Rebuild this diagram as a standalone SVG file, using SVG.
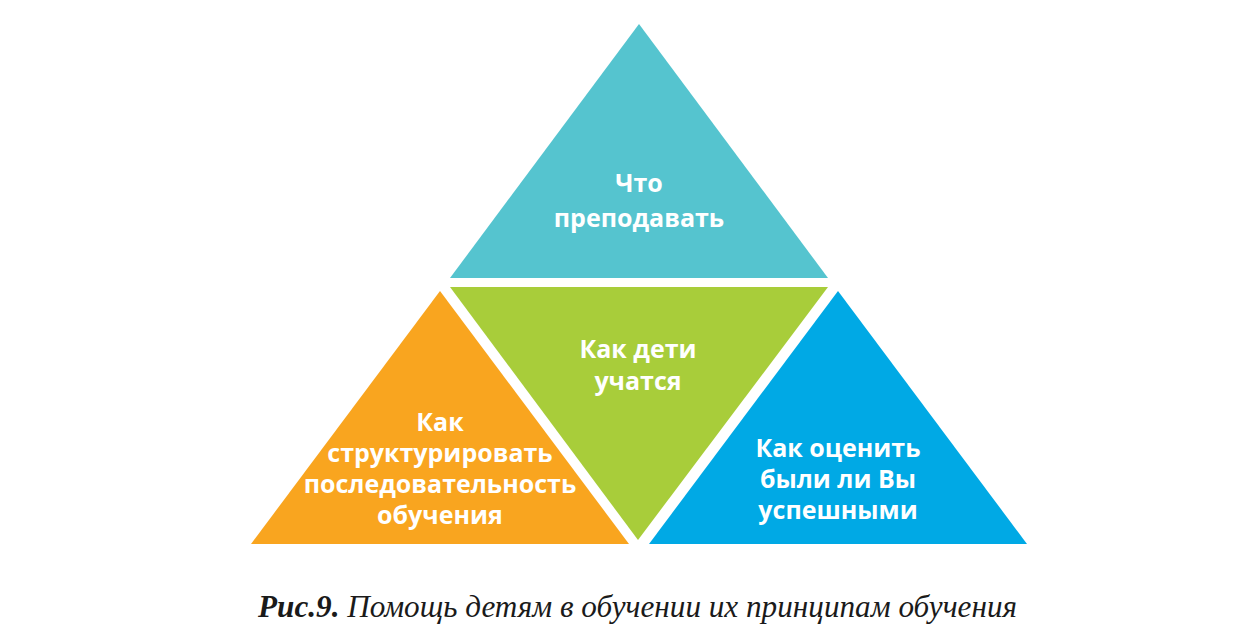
<svg xmlns="http://www.w3.org/2000/svg" width="1251" height="641" viewBox="0 0 1251 641">
  <style>
    .lbl { font-family: "Open Sans", "Noto Sans", "DejaVu Sans", sans-serif; font-weight: 700; font-size: 25px; fill: #FFFFFF; text-anchor: middle; }
    .cap { font-family: "Liberation Serif", "Times New Roman", serif; font-style: italic; font-size: 31px; fill: #1A1A1A; }
  </style>
  <rect width="1251" height="641" fill="#FFFFFF"/>
  <g id="node-top">
    <polygon points="639,24 828,278 450,278" fill="#55C4CF"/>
    <text class="lbl" x="639" y="192">Что</text>
    <text class="lbl" x="639" y="227">преподавать</text>
  </g>
  <g id="node-center">
    <polygon points="450,287 828,287 638,540" fill="#A8CD3A"/>
    <text class="lbl" x="638" y="358">Как дети</text>
    <text class="lbl" x="638" y="390">учатся</text>
  </g>
  <g id="node-left">
    <polygon points="440,291 629,544 251,544" fill="#F9A51F"/>
    <text class="lbl" x="440" y="431">Как</text>
    <text class="lbl" x="440" y="462">структурировать</text>
    <text class="lbl" x="440" y="493">последовательность</text>
    <text class="lbl" x="440" y="524">обучения</text>
  </g>
  <g id="node-right">
    <polygon points="838,291 1027,544 649,544" fill="#00A9E5"/>
    <text class="lbl" x="838" y="457">Как оценить</text>
    <text class="lbl" x="838" y="488">были ли Вы</text>
    <text class="lbl" x="838" y="519">успешными</text>
  </g>
  <g id="connectors"></g>
  <text class="cap" x="258" y="617" textLength="759" lengthAdjust="spacingAndGlyphs"><tspan font-weight="700">Рис.9.</tspan> Помощь детям в обучении их принципам обучения</text>
</svg>
